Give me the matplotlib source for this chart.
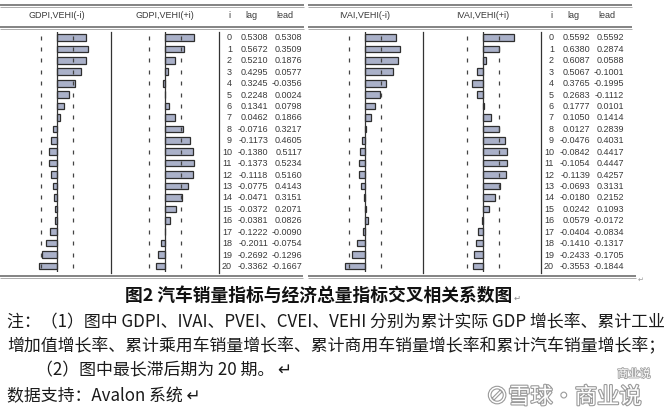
import matplotlib
matplotlib.use("Agg")
import matplotlib.pyplot as plt
import matplotlib.patheffects as pe

W, H = 667, 413

lags = list(range(21))

gdpi_lag = [0.5308, 0.5672, 0.5210, 0.4295, 0.3245, 0.2248, 0.1341, 0.0462, -0.0716, -0.1173,
            -0.1380, -0.1373, -0.1118, -0.0775, -0.0471, -0.0372, -0.0381, -0.1222, -0.2011,
            -0.2692, -0.3362]
gdpi_lead = [0.5308, 0.3509, 0.1876, 0.0577, -0.0356, 0.0024, 0.0798, 0.1866, 0.3217, 0.4605,
             0.5117, 0.5234, 0.5160, 0.4143, 0.3151, 0.2071, 0.0826, -0.0090, -0.0754,
             -0.1296, -0.1667]
ivai_lag = [0.5592, 0.6380, 0.6087, 0.5067, 0.3765, 0.2683, 0.1777, 0.1050, 0.0127, -0.0476,
            -0.0842, -0.1054, -0.1139, -0.0693, -0.0180, 0.0242, 0.0579, -0.0404, -0.1410,
            -0.2433, -0.3553]
ivai_lead = [0.5592, 0.2874, 0.0588, -0.1001, -0.1995, -0.1112, 0.0101, 0.1414, 0.2839, 0.4031,
             0.4417, 0.4447, 0.4257, 0.3131, 0.2152, 0.1093, -0.0172, -0.0834, -0.1317,
             -0.1705, -0.1844]

band = 0.29  # +/- 2 s.e.

panels = [
    ("GDPI,VEHI(-i)", "GDPI,VEHI(+i)", gdpi_lag, gdpi_lead),
    ("IVAI,VEHI(-i)", "IVAI,VEHI(+i)", ivai_lag, ivai_lead),
]

title = "图2 汽车销量指标与经济总量指标交叉相关系数图"
notes = [
    "注：（1）图中 GDPI、IVAI、PVEI、CVEI、VEHI 分别为累计实际 GDP 增长率、累计工业",
    "增加值增长率、累计乘用车销量增长率、累计商用车销量增长率和累计汽车销量增长率；",
    "（2）图中最长滞后期为 20 期。",
    "数据支持：Avalon 系统",
]

# layout in pixels
px_unit = 55.0
row0, row20 = 37.5, 266.0
step = (row20 - row0) / 20
y_top, y_bot = row0 - step / 2, row20 + step / 2
geo = [
    dict(x0=0, x1=304, zlag=57, zlead=165, sep1=111, sep2=219, bot1=303),
    dict(x0=308, x1=632, zlag=365, zlead=483, sep1=423, sep2=541, bot1=636),
]

fig = plt.figure(figsize=(W / 100, H / 100), dpi=100)
bg = fig.add_axes([0, 0, 1, 1])
bg.set_xlim(0, W)
bg.set_ylim(H, 0)
bg.axis("off")

cjk = ["Noto Sans CJK SC", "DejaVu Sans"]
txt_col = "#3a3a3a"
bar_face = "#aab1c9"
bar_edge = "#2e2e2e"
fs_tab = 6.5


def bar_axes(zero):
    half = 50
    ax = fig.add_axes([(zero - half) / W, 1 - y_bot / H, 2 * half / W, (y_bot - y_top) / H])
    ax.set_xlim(-half / px_unit, half / px_unit)
    ax.set_ylim(20.5, -0.5)
    ax.axis("off")
    return ax


for (h_lag, h_lead, lag_vals, lead_vals), g in zip(panels, geo):
    # header rules
    for yy, c, lw in [(4.5, "#6e6e6e", 1.2), (7.0, "#a0a0a0", 0.6),
                      (26.5, "#6e6e6e", 1.2), (28.8, "#a0a0a0", 0.6)]:
        bg.plot([g["x0"], g["x1"]], [yy, yy], color=c, lw=lw, solid_capstyle="butt")
    for yy, c, lw in [(276.0, "#6e6e6e", 1.2), (278.3, "#a0a0a0", 0.6)]:
        bg.plot([g["x0"], g["bot1"]], [yy, yy], color=c, lw=lw, solid_capstyle="butt")

    bg.text(g["zlag"], 16, h_lag, ha="center", va="center", fontsize=fs_tab,
            family="Liberation Sans", color=txt_col)
    bg.text(g["zlead"], 16, h_lead, ha="center", va="center", fontsize=fs_tab,
            family="Liberation Sans", color=txt_col)

    for xs in (g["sep1"], g["sep2"]):
        bg.plot([xs, xs], [y_top, y_bot + 1], color="#333333", lw=0.9)

    for zero, vals in ((g["zlag"], lag_vals), (g["zlead"], lead_vals)):
        ax = bar_axes(zero)
        ax.barh(lags, vals, height=0.58, color=bar_face, edgecolor=bar_edge, linewidth=0.9)
        ax.axvline(0, color="#333333", lw=0.9)
        for b in (-band, band):
            ax.plot([b] * len(lags), lags, ls="none", marker="|", ms=2.6,
                    mew=0.9, color="#444444")

    # table
    t0 = g["sep2"]
    bg.text(t0 + 10, 16, "i", ha="center", va="center", fontsize=fs_tab,
            family="Liberation Sans", color=txt_col)
    bg.text(t0 + 32, 16, "lag", ha="center", va="center", fontsize=fs_tab,
            family="Liberation Sans", color=txt_col)
    bg.text(t0 + 66, 16, "lead", ha="center", va="center", fontsize=fs_tab,
            family="Liberation Sans", color=txt_col)
    for i, a, b in zip(lags, lag_vals, lead_vals):
        yy = row0 + i * step + 0.5
        bg.text(t0 + 13, yy, str(i), ha="right", va="center", fontsize=fs_tab,
                family="Liberation Sans", color=txt_col)
        bg.text(t0 + 49, yy, f"{a:.4f}", ha="right", va="center", fontsize=fs_tab,
                family="Liberation Sans", color=txt_col)
        bg.text(t0 + 83, yy, f"{b:.4f}", ha="right", va="center", fontsize=fs_tab,
                family="Liberation Sans", color=txt_col)

bg.text(641, 280, "↵", ha="center", va="center", fontsize=5, family=cjk, color="#999999")

# caption and notes
bg.text(319, 296, title, ha="center", va="center", fontsize=12.8, fontweight="bold",
        family=cjk, color="#111111")
bg.text(514, 298, "↵", ha="left", va="center", fontsize=6, family=cjk, color="#888888")

fs_note = 12.2
bg.text(7, 322, notes[0], ha="left", va="center", fontsize=fs_note, family=cjk,
        color="#1a1a1a")
bg.text(7, 346, notes[1], ha="left", va="center", fontsize=fs_note, family=cjk,
        color="#1a1a1a")
bg.text(36, 370, notes[2] + " ↵", ha="left", va="center", fontsize=fs_note, family=cjk,
        color="#1a1a1a")
bg.text(7, 396, notes[3] + " ↵", ha="left", va="center", fontsize=fs_note, family=cjk,
        color="#1a1a1a")

# watermark
wm = bg.text(486, 397, "⊘雪球·商业说", ha="left", va="center", fontsize=16, family=cjk,
             color="white")
wm.set_path_effects([pe.withStroke(linewidth=1.6, foreground="#9a9a9a")])
wm2 = bg.text(634, 374, "商业说", ha="center", va="center", fontsize=8, family=cjk,
              color="white")
wm2.set_path_effects([pe.withStroke(linewidth=1.2, foreground="#a5a5a5")])

fig.savefig("out.png", dpi=100)
